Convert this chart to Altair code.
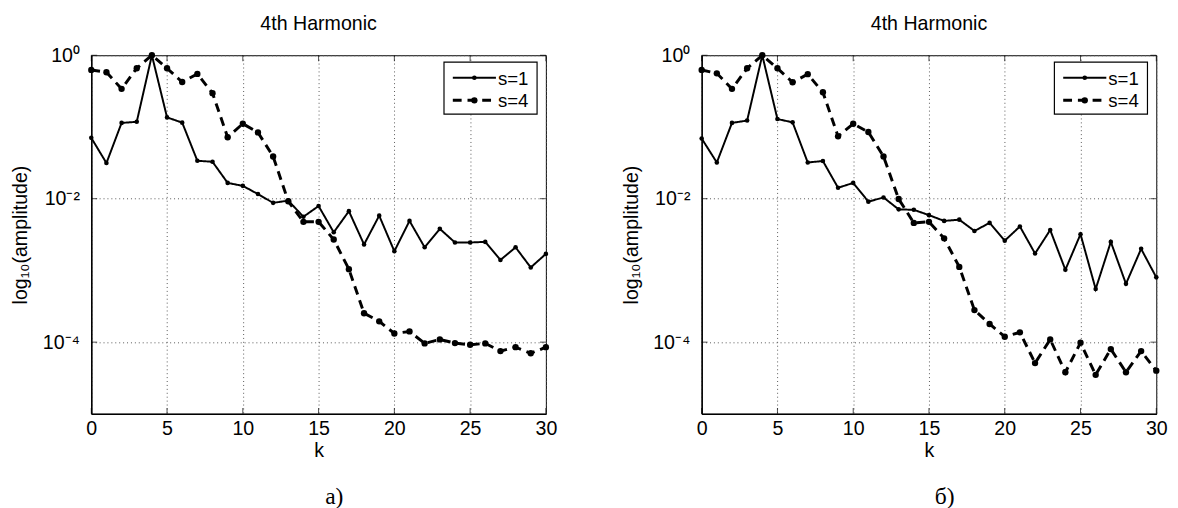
import math
import altair as alt
import pandas as pd

# ---------------- data ----------------
k_vals = list(range(31))
series = ["s=1", "s=4"]

a_s1 = [0.0705, 0.0314, 0.114, 0.118, 1.0, 0.136, 0.115, 0.0338, 0.0327, 0.0166,
        0.0151, 0.0116, 0.00875, 0.0094, 0.0056, 0.0079, 0.0034, 0.0067, 0.0023, 0.0058,
        0.00185, 0.0049, 0.0021, 0.0038, 0.00245, 0.00245, 0.0025, 0.0014, 0.0021, 0.0011,
        0.0017]
a_s4 = [0.624, 0.58, 0.34, 0.658, 1.0, 0.658, 0.424, 0.55, 0.296, 0.072,
        0.111, 0.084, 0.0388, 0.0092, 0.00476, 0.00476, 0.0027, 0.00104, 2.53e-4, 1.95e-4,
        1.32e-4, 1.41e-4, 9.6e-5, 1.09e-4, 9.7e-5, 9.2e-5, 9.6e-5, 7.5e-5, 8.5e-5, 7.0e-5,
        8.5e-5]
b_s1 = [0.069, 0.032, 0.114, 0.123, 1.0, 0.129, 0.116, 0.032, 0.0335, 0.0142,
        0.0166, 0.0091, 0.0104, 0.0071, 0.0070, 0.0059, 0.0049, 0.0051, 0.00355, 0.0046,
        0.0026, 0.0041, 0.00172, 0.00366, 0.00102, 0.0032, 0.00055, 0.0025, 0.00065, 0.0020,
        0.0008]
b_s4 = [0.624, 0.56, 0.34, 0.658, 1.0, 0.658, 0.42, 0.545, 0.305, 0.074,
        0.111, 0.085, 0.0388, 0.0099, 0.0046, 0.00476, 0.0028, 0.00112, 2.8e-4, 1.79e-4,
        1.19e-4, 1.37e-4, 5.1e-5, 1.09e-4, 3.8e-5, 9.8e-5, 3.5e-5, 8.0e-5, 3.8e-5, 7.5e-5,
        4.0e-5]

x_ticks = [0, 5, 10, 15, 20, 25, 30]
y_ticks = [1, 0.01, 0.0001]
y_tick_labels = ["10\u2070", "10\u207b\u00b2", "10\u207b\u2074"]
y_domain = [1e-5, 1]
panel_title = "4th Harmonic"
x_title = "k"
y_title = "log\u2081\u2080(amplitude)"
captions = ["a)", "\u0431)"]

W, H = 464, 366
FONT = "Liberation Sans"
FS = 20
DASHES = [[1, 0], [9, 6]]
WIDTHS = [2, 3]
DOTS = [22, 42]

# label expression built from tick values / labels
expr = "''"
for v, lab in reversed(list(zip(y_ticks, y_tick_labels))):
    expr = f"(abs(log(datum.value)/LN10 - ({math.log10(v)})) < 0.05 ? '{lab}' : {expr})"
label_expr = expr


def panel(s1, s4, caption):
    n = len(k_vals)
    df = pd.DataFrame({"k": k_vals + k_vals, "amp": s1 + s4,
                       "series": [series[0]] * n + [series[1]] * n})
    df["grp"] = df["series"]
    xs = alt.Scale(domain=[x_ticks[0], x_ticks[-1]], nice=False, zero=False)
    ys = alt.Scale(type="log", domain=y_domain, nice=False)
    x_axis = alt.Axis(values=x_ticks, title=x_title, grid=True, ticks=False,
                      labelPadding=5, titlePadding=3, format="d", labelFlush=False)
    y_axis = alt.Axis(values=y_ticks, labelExpr=label_expr, title=y_title, grid=True,
                      ticks=False, labelPadding=12, titlePadding=12, labelFlush=False)
    X = alt.X("k:Q", scale=xs, axis=x_axis)
    Y = alt.Y("amp:Q", scale=ys, axis=y_axis)

    lines = alt.Chart(df).mark_line(color="black").encode(
        x=X, y=Y,
        strokeDash=alt.StrokeDash(
            "series:N", scale=alt.Scale(domain=series, range=DASHES), legend=None),
        strokeWidth=alt.StrokeWidth(
            "series:N", scale=alt.Scale(domain=series, range=WIDTHS), legend=None),
    )
    pts = alt.Chart(df).mark_circle(color="black", opacity=1).encode(
        x=X, y=Y,
        size=alt.Size("grp:N", scale=alt.Scale(domain=series, range=DOTS),
                      legend=None),
    )
    xt = pd.DataFrame({"k": x_ticks})
    yt = pd.DataFrame({"amp": y_ticks})
    tb = alt.Chart(xt).mark_tick(orient="vertical", color="black", size=6,
                                 thickness=1, yOffset=-3).encode(x=X, y=alt.value(H))
    tt = alt.Chart(xt).mark_tick(orient="vertical", color="black", size=6,
                                 thickness=1, yOffset=3).encode(x=X, y=alt.value(0))
    tl = alt.Chart(yt).mark_tick(orient="horizontal", color="black", size=6,
                                 thickness=1, xOffset=3).encode(y=Y, x=alt.value(0))
    tr = alt.Chart(yt).mark_tick(orient="horizontal", color="black", size=6,
                                 thickness=1, xOffset=-3).encode(y=Y, x=alt.value(W))
    cap = alt.Chart(pd.DataFrame({"cap": [caption]})).mark_text(
        font="Liberation Serif", fontSize=24, color="black", baseline="middle",
        align="center",
    ).encode(text="cap:N", x=alt.value(W / 2 + 16), y=alt.value(H + 85))

    # legend box (drawn by hand, MATLAB style)
    lx0, lx1, ly0, ly1 = W - 104, W - 9, 7, 60
    box = alt.Chart(pd.DataFrame({"b": [0]})).mark_rect(
        fill="white", stroke="black", strokeWidth=1.2
    ).encode(x=alt.value(lx0), x2=alt.value(lx1), y=alt.value(ly0), y2=alt.value(ly1))
    leg = [box]
    for i, s in enumerate(series):
        ry = 23 + 23 * i
        d = pd.DataFrame({"series": [s]})
        leg.append(alt.Chart(d).mark_rule(color="black", strokeWidth=WIDTHS[i],
                                          strokeDash=DASHES[i]).encode(
            x=alt.value(lx0 + 9), x2=alt.value(lx0 + 53), y=alt.value(ry)))
        leg.append(alt.Chart(d).mark_circle(color="black", opacity=1,
                                            size=DOTS[i]).encode(
            x=alt.value(lx0 + 31), y=alt.value(ry)))
        leg.append(alt.Chart(d).mark_text(align="left", baseline="middle", font=FONT,
                                          fontSize=19, color="black").encode(
            text="series:N", x=alt.value(lx0 + 55), y=alt.value(ry + 1)))

    return alt.layer(lines, pts, tb, tt, tl, tr, cap, *leg).properties(
        width=W, height=H,
        title=alt.TitleParams(panel_title, font=FONT, fontSize=FS, fontWeight="normal",
                              color="black", anchor="middle", frame="group", offset=12),
    )


chart = alt.hconcat(
    panel(a_s1, a_s4, captions[0]),
    panel(b_s1, b_s4, captions[1]),
    spacing=64,
).resolve_scale(
    strokeDash="independent", strokeWidth="independent", size="independent"
).properties(
    padding={"left": 2, "top": 0, "right": 2, "bottom": 0}, background="white"
).configure_view(
    stroke="black", strokeWidth=1
).configure_axis(
    domainColor="black", domainWidth=1.5,
    labelFont=FONT, labelFontSize=FS, labelColor="black",
    titleFont=FONT, titleFontSize=FS, titleFontWeight="normal", titleColor="black",
    gridColor="#555555", gridDash=[1, 3], gridOpacity=1, gridWidth=1,
)

chart.save("out.html", embed_options={"renderer": "svg", "actions": False})
